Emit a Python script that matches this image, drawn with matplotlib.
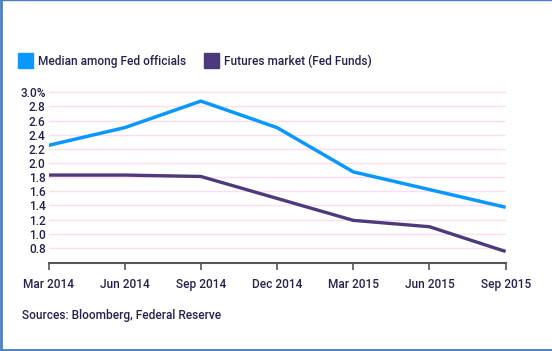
import matplotlib.pyplot as plt
from matplotlib.patches import Rectangle
from matplotlib.lines import Line2D

plt.rcParams['font.family'] = ['Roboto', 'DejaVu Sans']

# data
dates = ['Mar 2014', 'Jun 2014', 'Sep 2014', 'Dec 2014', 'Mar 2015', 'Jun 2015', 'Sep 2015']
fed_median = [2.25, 2.5, 2.875, 2.5, 1.875, 1.625, 1.375]
futures = [1.83, 1.83, 1.81, 1.5, 1.19, 1.1, 0.75]
y_ticks = [0.8, 1.0, 1.2, 1.4, 1.6, 1.8, 2.0, 2.2, 2.4, 2.6, 2.8, 3.0]
y_labels = ['0.8', '1.0', '1.2', '1.4', '1.6', '1.8', '2.0', '2.2', '2.4', '2.6', '2.8', '3.0%']

BLUE = '#0a97ff'
PURPLE = '#4b3b7c'
TEXT = '#22224c'
GRID = '#fbdff1'
FRAME = '#4a7fc1'
FS = 8.6
FW = 'medium'

fig = plt.figure(figsize=(5.52, 3.51), dpi=100)
ax = fig.add_axes([0.0879, 0.2516, 0.8281, 0.4884])

x = range(len(dates))
for yv in y_ticks:
    ax.axhline(yv, color=GRID, lw=1, zorder=0)
ax.plot(x, fed_median, color=BLUE, lw=2.5, solid_capstyle='butt')
ax.plot(x, futures, color=PURPLE, lw=2.4, solid_capstyle='butt')

ax.set_xlim(0, len(dates) - 1)
ax.set_ylim(0.592, 3.014)
ax.set_xticks(list(x))
ax.set_xticklabels(dates, fontsize=FS, color=TEXT, fontweight=FW)
ax.set_yticks(y_ticks)
ax.set_yticklabels(y_labels, fontsize=FS, color=TEXT, fontweight=FW)
ax.tick_params(axis='y', length=0, pad=2)
ax.tick_params(axis='x', length=5, width=1.2, color='#555555', pad=6, direction='out')

for s in ['top', 'right', 'left']:
    ax.spines[s].set_visible(False)
ax.spines['bottom'].set_color('#555555')
ax.spines['bottom'].set_linewidth(1.5)

# legend drawn by hand
fig.patches.append(Rectangle((18 / 552, 1 - 68 / 351), 15 / 552, 15 / 351,
                             transform=fig.transFigure, color=BLUE))
fig.text(38 / 552, 1 - 61 / 351, 'Median among Fed officials', fontsize=FS,
         color=TEXT, va='center', fontweight=FW)
fig.patches.append(Rectangle((204 / 552, 1 - 68 / 351), 15 / 552, 15 / 351,
                             transform=fig.transFigure, color=PURPLE))
fig.text(224 / 552, 1 - 61 / 351, 'Futures market (Fed Funds)', fontsize=FS,
         color=TEXT, va='center', fontweight=FW)

fig.text(22 / 552, 1 - 316 / 351, 'Sources: Bloomberg, Federal Reserve', fontsize=FS,
         color=TEXT, va='center', fontweight=FW)

# frame around the image (left, top, bottom)
fig.lines.append(Line2D([0.002, 0.002], [0, 1], transform=fig.transFigure, color=FRAME, lw=2))
fig.lines.append(Line2D([0, 1], [0.999, 0.999], transform=fig.transFigure, color=FRAME, lw=1))
fig.lines.append(Line2D([0, 1], [0.003, 0.003], transform=fig.transFigure, color=FRAME, lw=2))

fig.savefig('out.png', dpi=100)
